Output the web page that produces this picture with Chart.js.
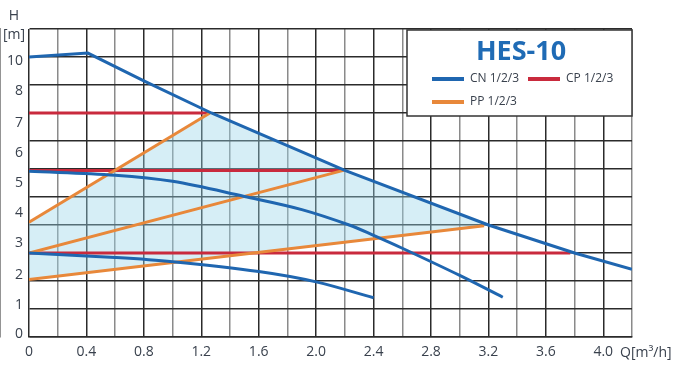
<!DOCTYPE html>
<html>
<head>
<meta charset="utf-8">
<script src="https://cdn.jsdelivr.net/npm/chart.js@4.4.1/dist/chart.umd.min.js"></script>
<style>
  html, body { margin: 0; padding: 0; background: #fff; }
  #wrap { width: 691px; height: 378px; position: relative; }
</style>
</head>
<body>
<div id="wrap"><canvas id="pumpChart"></canvas></div>
<script>
// Q axis labels, one on every second grid line
const xTickLabels = ['0', '0.4', '0.8', '1.2', '1.6', '2.0', '2.4', '2.8', '3.2', '3.6', '4.0'];
// H axis labels and where they sit on the grid scale (they do not line up with the grid)
const yTickLabels = ['0', '1', '2', '3', '4', '5', '6', '7', '8', '10'];
const yTickAt = [0.12, 1.13, 2.21, 3.34, 4.42, 5.49, 6.58, 7.66, 8.80, 9.84];

// proportional pressure curves CN 1/2/3 [Q, H]
const cn1 = [[0, 3.0], [0.6, 2.84], [1.0, 2.69], [1.6, 2.34], [2.0, 1.97], [2.4, 1.4]];
const cn2 = [[0, 5.92], [0.6, 5.78], [1.0, 5.56], [1.5, 5.02], [1.9, 4.55], [2.23, 4.0], [2.4, 3.63], [2.6, 3.17], [3.0, 2.2], [3.3, 1.42]];
const cn3 = [[0, 10.0], [0.41, 10.14], [0.8, 9.15], [1.27, 8.0], [2.2, 5.95], [3.2, 4.0], [3.8, 3.0], [4.2, 2.42]];

// constant pressure CP 1/2/3
const cp1 = [[0, 3.0], [3.77, 3.0]];
const cp2 = [[0, 5.95], [2.19, 5.95]];
const cp3 = [[0, 8.0], [1.26, 8.0]];

// proportional pressure PP 1/2/3
const pp1 = [[0, 2.05], [3.17, 3.97]];
const pp2 = [[0, 3.0], [2.19, 5.95]];
const pp3 = [[0, 4.1], [1.26, 8.0]];

// working range (shaded): top edge follows PP3 then CN3, bottom edge is PP1
const areaTop = [[0, 4.1], [1.27, 8.0], [2.2, 5.95], [3.17, 4.06]];
const areaBottom = pp1;

const BLUE = '#1f66b0';
const RED = '#c92a3d';
const ORANGE = '#e8883a';
const TEXT = '#39414d';
const FONT = "'Open Sans', 'Noto Sans', sans-serif";

const pts = (arr) => arr.map(([x, y]) => ({ x, y }));

const curve = (label, arr, color, order, tension = 0) => ({
    label,
    data: pts(arr),
    showLine: true,
    borderColor: color,
    backgroundColor: color,
    borderWidth: 3,
    pointRadius: 0,
    fill: false,
    order,
    tension
});

// legend box, axis titles
const hesLegend = {
    id: 'hesLegend',
    afterDraw(chart) {
        const { ctx, chartArea: a } = chart;
        ctx.save();
        const bw = 225, bh = 86;
        const bx = a.right - bw, by = a.top + 1;
        ctx.fillStyle = '#fff';
        ctx.fillRect(bx, by, bw, bh);
        ctx.strokeStyle = '#333';
        ctx.lineWidth = 1.5;
        ctx.strokeRect(bx, by, bw, bh);

        ctx.fillStyle = '#1f6bb5';
        ctx.font = 'bold 27px ' + FONT;
        ctx.textAlign = 'center';
        ctx.textBaseline = 'middle';
        ctx.fillText('HES-10', bx + 114, by + 22);

        const items = [
            ['CN 1/2/3', BLUE, 25, 49],
            ['CP 1/2/3', RED, 121, 49],
            ['PP 1/2/3', ORANGE, 25, 72]
        ];
        ctx.font = '12px ' + FONT;
        ctx.textAlign = 'left';
        items.forEach(([txt, col, ox, oy]) => {
            ctx.strokeStyle = col;
            ctx.lineWidth = 4;
            ctx.beginPath();
            ctx.moveTo(bx + ox, by + oy);
            ctx.lineTo(bx + ox + 32, by + oy);
            ctx.stroke();
            ctx.fillStyle = TEXT;
            ctx.fillText(txt, bx + ox + 38, by + oy);
        });

        ctx.font = '14px ' + FONT;
        ctx.fillStyle = TEXT;
        ctx.textAlign = 'center';
        ctx.fillText('H', 14, 16);
        ctx.fillText('[m]', 14, 35);
        ctx.textAlign = 'left';
        ctx.fillText('Q[m³/h]', a.right - 12, a.bottom + 16);
        ctx.restore();
    }
};

const initPumpChart = () => {
    const ctx = document.getElementById('pumpChart').getContext('2d');
    new Chart(ctx, {
        type: 'scatter',
        data: {
            datasets: [
                {
                    label: 'area',
                    data: pts(areaTop),
                    showLine: true,
                    borderWidth: 0,
                    pointRadius: 0,
                    backgroundColor: 'rgba(152, 212, 232, 0.4)',
                    fill: '+1',
                    order: 10
                },
                {
                    label: 'area bottom',
                    data: pts(areaBottom),
                    showLine: true,
                    borderWidth: 0,
                    pointRadius: 0,
                    fill: false,
                    order: 10
                },
                curve('CP 1', cp1, RED, 4),
                curve('CP 2', cp2, RED, 4),
                curve('CP 3', cp3, RED, 4),
                curve('PP 1', pp1, ORANGE, 3),
                curve('PP 2', pp2, ORANGE, 3),
                curve('PP 3', pp3, ORANGE, 3),
                curve('CN 1', cn1, BLUE, 1, 0.35),
                curve('CN 2', cn2, BLUE, 1, 0.35),
                curve('CN 3', cn3, BLUE, 1)
            ]
        },
        options: {
            responsive: true,
            maintainAspectRatio: false,
            animation: false,
            layout: { padding: { left: 0, top: 29, right: 59, bottom: 0 } },
            plugins: {
                legend: { display: false },
                tooltip: { enabled: false },
                filler: { drawTime: 'beforeDatasetsDraw' }
            },
            scales: {
                x: {
                    type: 'linear',
                    min: 0,
                    max: 4.2,
                    afterBuildTicks: (scale) => {
                        const t = [];
                        for (let i = 0; i <= 21; i++) t.push({ value: i * 0.2 });
                        scale.ticks = t;
                    },
                    afterFit: (scale) => { scale.height = 41; },
                    grid: {
                        drawTicks: false,
                        color: (c) => (c.index % 2 ? '#8a8a8a' : '#2b2b2b'),
                        lineWidth: 1.5
                    },
                    border: { color: '#2b2b2b', width: 1.5 },
                    ticks: {
                        padding: 7,
                        color: TEXT,
                        font: { family: FONT, size: 14 },
                        maxRotation: 0,
                        autoSkip: false,
                        callback: (v, i) => (i % 2 === 0 ? (xTickLabels[i / 2] || '') : '')
                    }
                },
                y: {
                    type: 'linear',
                    position: 'left',
                    min: 0,
                    max: 11,
                    afterBuildTicks: (scale) => {
                        scale.ticks = yTickAt.map((v) => ({ value: v }));
                    },
                    afterFit: (scale) => { scale.width = 29; },
                    grid: { display: false, drawTicks: false },
                    border: { display: false },
                    ticks: {
                        padding: 6,
                        color: TEXT,
                        font: { family: FONT, size: 14 },
                        autoSkip: false,
                        callback: (v, i) => yTickLabels[i]
                    }
                },
                yGrid: {
                    type: 'linear',
                    position: 'left',
                    min: 0,
                    max: 11,
                    afterBuildTicks: (scale) => {
                        const t = [];
                        for (let i = 0; i <= 11; i++) t.push({ value: i });
                        scale.ticks = t;
                    },
                    afterFit: (scale) => { scale.width = 0; },
                    grid: { drawTicks: false, color: '#2b2b2b', lineWidth: 1.5 },
                    border: { color: '#2b2b2b', width: 1.5 },
                    ticks: { display: false }
                }
            }
        },
        plugins: [hesLegend]
    });
};

document.addEventListener('DOMContentLoaded', initPumpChart);
</script>
</body>
</html>
